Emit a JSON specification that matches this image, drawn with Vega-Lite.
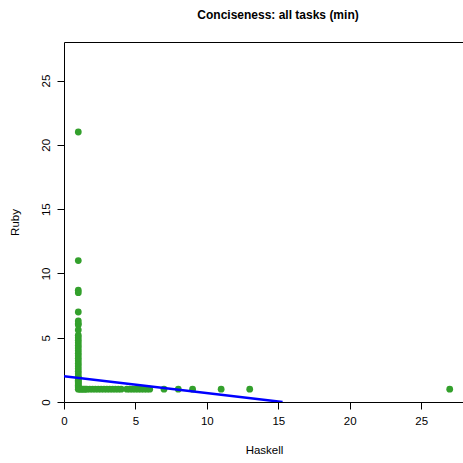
{
  "$schema": "https://vega.github.io/schema/vega-lite/v6.json",
  "autosize": {"type": "none"},
  "padding": {"left": 64, "top": 42, "right": 0, "bottom": 61},
  "width": 400,
  "height": 360,
  "background": "white",
  "title": {
    "text": "Conciseness: all tasks (min)",
    "fontSize": 12,
    "fontWeight": "bold",
    "font": "Liberation Sans",
    "color": "black",
    "anchor": "middle",
    "dx": 14,
    "offset": 20
  },
  "config": {
    "view": {"stroke": "black", "strokeWidth": 1},
    "axis": {
      "labelFont": "Liberation Sans",
      "titleFont": "Liberation Sans",
      "labelFontSize": 11.5,
      "titleFontSize": 11.5,
      "labelColor": "black",
      "titleColor": "black",
      "titleFontWeight": "normal",
      "tickColor": "black",
      "tickSize": 7,
      "domain": false,
      "grid": false
    }
  },
  "datasets": {
    "pts": [
      {"haskell": 1, "ruby": 1.0}, {"haskell": 1, "ruby": 1.1}, {"haskell": 1, "ruby": 1.2}, {"haskell": 1, "ruby": 1.3},
      {"haskell": 1, "ruby": 1.4}, {"haskell": 1, "ruby": 1.5}, {"haskell": 1, "ruby": 1.6}, {"haskell": 1, "ruby": 1.7},
      {"haskell": 1, "ruby": 1.8}, {"haskell": 1, "ruby": 1.9}, {"haskell": 1, "ruby": 2.0}, {"haskell": 1, "ruby": 2.2},
      {"haskell": 1, "ruby": 2.4}, {"haskell": 1, "ruby": 2.6}, {"haskell": 1, "ruby": 2.8}, {"haskell": 1, "ruby": 3.0},
      {"haskell": 1, "ruby": 3.2}, {"haskell": 1, "ruby": 3.4}, {"haskell": 1, "ruby": 3.6}, {"haskell": 1, "ruby": 3.8},
      {"haskell": 1, "ruby": 4.0}, {"haskell": 1, "ruby": 4.2}, {"haskell": 1, "ruby": 4.4}, {"haskell": 1, "ruby": 4.6},
      {"haskell": 1, "ruby": 4.8}, {"haskell": 1, "ruby": 5.0}, {"haskell": 1, "ruby": 5.2}, {"haskell": 1, "ruby": 5.6},
      {"haskell": 1, "ruby": 6.0}, {"haskell": 1, "ruby": 6.1}, {"haskell": 1, "ruby": 6.3}, {"haskell": 1, "ruby": 7.0},
      {"haskell": 1, "ruby": 8.5}, {"haskell": 1, "ruby": 8.7}, {"haskell": 1, "ruby": 11.0}, {"haskell": 1, "ruby": 21.0},
      {"haskell": 1.1, "ruby": 1}, {"haskell": 1.2, "ruby": 1}, {"haskell": 1.3, "ruby": 1}, {"haskell": 1.4, "ruby": 1},
      {"haskell": 1.5, "ruby": 1}, {"haskell": 1.6, "ruby": 1}, {"haskell": 1.8, "ruby": 1}, {"haskell": 2.0, "ruby": 1},
      {"haskell": 2.2, "ruby": 1}, {"haskell": 2.4, "ruby": 1}, {"haskell": 2.6, "ruby": 1}, {"haskell": 2.8, "ruby": 1},
      {"haskell": 3.0, "ruby": 1}, {"haskell": 3.2, "ruby": 1}, {"haskell": 3.4, "ruby": 1}, {"haskell": 3.6, "ruby": 1},
      {"haskell": 3.8, "ruby": 1}, {"haskell": 4.0, "ruby": 1}, {"haskell": 4.4, "ruby": 1}, {"haskell": 4.6, "ruby": 1},
      {"haskell": 4.8, "ruby": 1}, {"haskell": 5.0, "ruby": 1}, {"haskell": 5.2, "ruby": 1}, {"haskell": 5.4, "ruby": 1},
      {"haskell": 5.6, "ruby": 1}, {"haskell": 5.8, "ruby": 1}, {"haskell": 6.0, "ruby": 1}, {"haskell": 7.0, "ruby": 1},
      {"haskell": 8.0, "ruby": 1}, {"haskell": 9.0, "ruby": 1}, {"haskell": 11.0, "ruby": 1}, {"haskell": 13.0, "ruby": 1},
      {"haskell": 27.0, "ruby": 1}
    ],
    "fit": [
      {"haskell": 0, "ruby": 2.0},
      {"haskell": 15.3, "ruby": 0}
    ]
  },
  "layer": [
    {
      "data": {"name": "pts"},
      "mark": {"type": "circle", "color": "#33A02C", "opacity": 1, "size": 46},
      "encoding": {
        "x": {
          "field": "haskell", "type": "quantitative", "title": "Haskell",
          "scale": {"domain": [0, 28], "nice": false, "zero": false},
          "axis": {"values": [0, 5, 10, 15, 20, 25], "labelPadding": 6, "titlePadding": 18, "labelFlush": false}
        },
        "y": {
          "field": "ruby", "type": "quantitative", "title": "Ruby",
          "scale": {"domain": [0, 28], "nice": false, "zero": false},
          "axis": {"values": [0, 5, 10, 15, 20, 25], "labelAngle": -90, "labelAlign": "center", "labelBaseline": "bottom", "labelPadding": 6, "titlePadding": 20, "labelFlush": false}
        }
      }
    },
    {
      "data": {"name": "fit"},
      "mark": {"type": "line", "color": "#0000FF", "strokeWidth": 2.5, "clip": true},
      "encoding": {
        "x": {"field": "haskell", "type": "quantitative"},
        "y": {"field": "ruby", "type": "quantitative"}
      }
    }
  ]
}
